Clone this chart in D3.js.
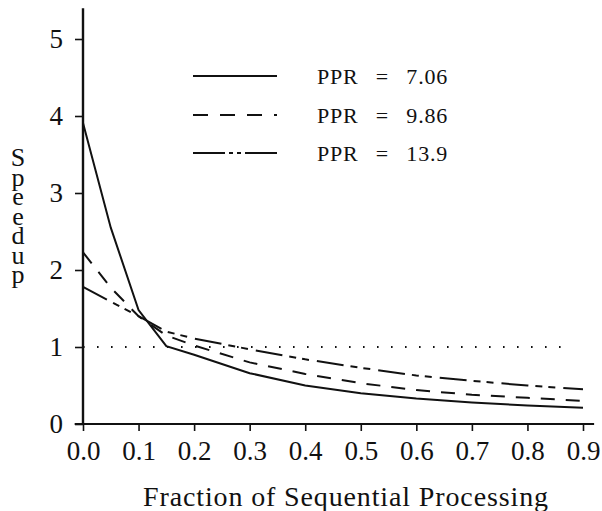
<!DOCTYPE html>
<html>
<head>
<meta charset="utf-8">
<script src="https://cdn.jsdelivr.net/npm/d3@7"></script>
<style>
  html, body { margin: 0; padding: 0; background: #fff; }
  svg { display: block; }
  svg text { font-family: 'Times New Roman', 'Liberation Serif', 'DejaVu Serif', serif; fill: #111; }
</style>
</head>
<body>
<svg id="chart" width="602" height="511"></svg>
<script>
// ---- data ----
const fractions = [0, 0.05, 0.1, 0.15, 0.2, 0.3, 0.4, 0.5, 0.6, 0.7, 0.8, 0.9];
const speedupPPR706 = [3.91, 2.55, 1.48, 1.01, 0.90, 0.66, 0.50, 0.40, 0.33, 0.28, 0.24, 0.21];
const speedupPPR986 = [2.23, 1.77, 1.40, 1.15, 1.02, 0.80, 0.65, 0.53, 0.44, 0.38, 0.34, 0.30];
const speedupPPR139 = [1.78, 1.59, 1.40, 1.20, 1.11, 0.97, 0.84, 0.73, 0.63, 0.56, 0.50, 0.45];
const seriesNames = ["PPR = 7.06", "PPR = 9.86", "PPR = 13.9"];
const xTickValues = [0, 0.1, 0.2, 0.3, 0.4, 0.5, 0.6, 0.7, 0.8, 0.9];
const yTickValues = [0, 1, 2, 3, 4, 5];
const referenceLevel = 1;
const xTitle = "Fraction of Sequential Processing";
const yTitle = "Speedup";

const serif = "'Times New Roman', 'Liberation Serif', 'DejaVu Serif', serif";
const svg = d3.select("#chart");
const x = d3.scaleLinear().domain([0, 0.9]).range([83, 583]);
const y = d3.scaleLinear().domain([0, 5]).range([424, 39]);
const ink = "#111";

// axes
const xAxis = svg.append("g").attr("transform", `translate(0,${y(0)})`)
  .call(d3.axisBottom(x).tickValues(xTickValues).tickSize(7).tickSizeOuter(0).tickPadding(10)
        .tickFormat(d3.format(".1f")));
xAxis.attr("font-family", serif);
xAxis.select(".domain").remove();
xAxis.selectAll(".tick line").attr("stroke", ink).attr("stroke-width", 1.6);
xAxis.selectAll(".tick text").attr("font-size", 27).attr("fill", ink)
  .style("font-family", serif);

const yAxis = svg.append("g").attr("transform", `translate(${x(0)},0)`)
  .call(d3.axisLeft(y).tickValues(yTickValues).tickSize(8).tickSizeOuter(0).tickPadding(12)
        .tickFormat(d3.format("d")));
yAxis.attr("font-family", serif);
yAxis.select(".domain").remove();
yAxis.selectAll(".tick line").attr("stroke", ink).attr("stroke-width", 1.6);
yAxis.selectAll(".tick text").attr("font-size", 27).attr("fill", ink)
  .style("font-family", serif);

// axis lines (extended like the reference)
svg.append("line").attr("x1", x(-0.015)).attr("x2", x(0.92)).attr("y1", y(0)).attr("y2", y(0))
  .attr("stroke", ink).attr("stroke-width", 2.2);
svg.append("line").attr("x1", x(0)).attr("x2", x(0)).attr("y1", y(0)).attr("y2", y(5.4))
  .attr("stroke", ink).attr("stroke-width", 2.4);

// dotted reference line at speedup 1
svg.append("line").attr("x1", x(0)).attr("x2", x(0.88))
  .attr("y1", y(referenceLevel)).attr("y2", y(referenceLevel))
  .attr("stroke", ink).attr("stroke-width", 1.8).attr("stroke-dasharray", "1.6,12.4");

// curves
const dashes = [null, "14,11", "27,7,7,6,7,8"];
const seriesValues = [speedupPPR706, speedupPPR986, speedupPPR139];
const line = d3.line().x(d => x(d[0])).y(d => y(d[1]));
seriesValues.forEach((vals, i) => {
  const pts = fractions.map((f, j) => [f, vals[j]]);
  svg.append("path").datum(pts).attr("d", line)
    .attr("fill", "none").attr("stroke", ink).attr("stroke-width", 2)
    .attr("stroke-dasharray", dashes[i]);
});

// legend
const legendRows = [76, 115, 153];
seriesNames.forEach((name, i) => {
  svg.append("line").attr("x1", 193).attr("x2", 277)
    .attr("y1", legendRows[i]).attr("y2", legendRows[i])
    .attr("stroke", ink).attr("stroke-width", 2)
    .attr("stroke-dasharray", i === 1 ? "15,12" : (i === 2 ? "32,4,4,4,4,4" : null));
  svg.append("text").attr("x", 317).attr("y", legendRows[i] + 8)
    .attr("font-size", 22)
    .style("letter-spacing", "0.8px").style("word-spacing", "11px")
    .text(name);
});

// axis titles
svg.append("text").attr("x", 143).attr("y", 506).attr("font-size", 28)
  .attr("textLength", 405).attr("lengthAdjust", "spacing").text(xTitle);

svg.append("text").attr("x", 18).attr("y", 143)
  .attr("font-size", 26)
  .attr("textLength", 146).attr("lengthAdjust", "spacing")
  .style("writing-mode", "vertical-rl")
  .style("text-orientation", "upright")
  .text(yTitle);
</script>
</body>
</html>
